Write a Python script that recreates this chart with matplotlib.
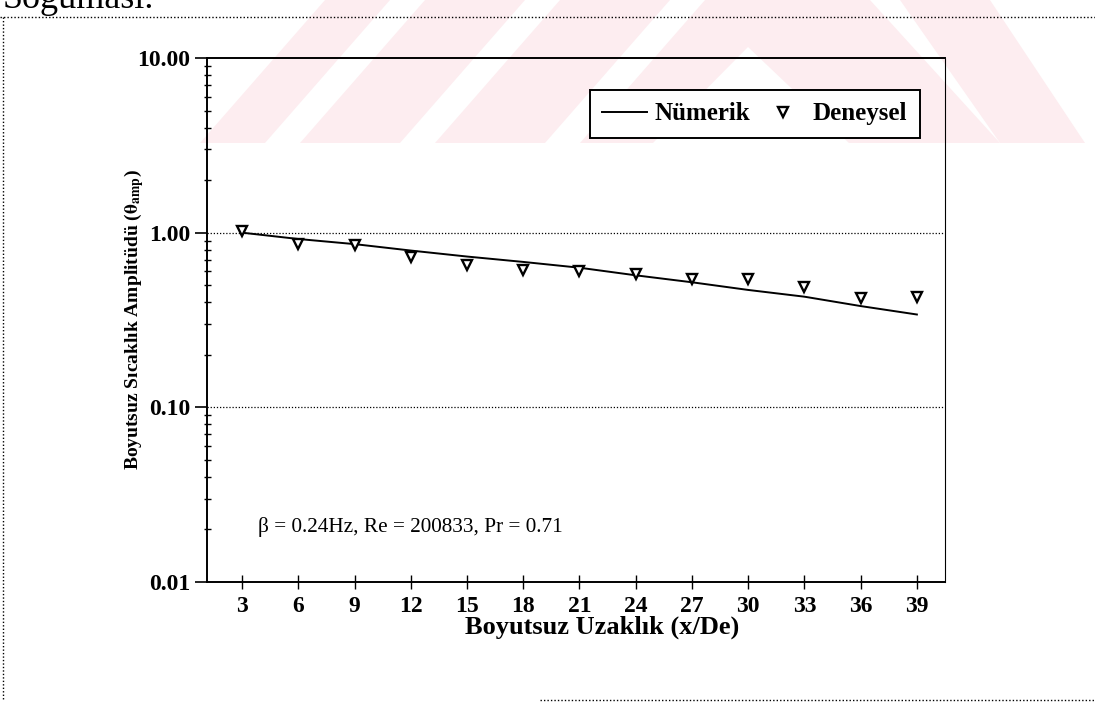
import matplotlib
matplotlib.use("Agg")
import matplotlib.pyplot as plt
from matplotlib.patches import Polygon
from matplotlib.lines import Line2D
from matplotlib.ticker import LogLocator, FixedLocator, NullFormatter
import numpy as np

# data
x_pos = [3, 6, 9, 12, 15, 18, 21, 24, 27, 30, 33, 36, 39]
numerik = [1.00, 0.92, 0.86, 0.79, 0.73, 0.68, 0.63, 0.57, 0.52, 0.47, 0.43, 0.38, 0.34]
deneysel = [1.02, 0.865, 0.85, 0.73, 0.65, 0.61, 0.60, 0.58, 0.545, 0.54, 0.49, 0.42, 0.43]
y_ticks = [0.01, 0.1, 1.0, 10.0]

plt.rcParams['font.family'] = ['Liberation Serif', 'DejaVu Serif']
plt.rcParams['mathtext.fontset'] = 'stix'

W, H = 1095, 713
PT = 72 / 100  # points per pixel at dpi 100
fig = plt.figure(figsize=(W / 100, H / 100), dpi=100)

def px(x, y):
    # pixel coords (top-left origin) -> figure fraction
    return (x / W, 1 - y / H)

def add_poly(points, color):
    fig.patches.append(Polygon([px(a, b) for a, b in points], closed=True,
                               transform=fig.transFigure, color=color, zorder=-5, lw=0))

# pale pink watermark in the top band of the scanned page
pink = '#fdedf0'
wb = 143   # watermark cut line
sl = 125   # horizontal run of a stripe over the band height
for x0, w in [(200, 65), (300, 100), (435, 110)]:
    add_poly([(x0, wb), (x0 + w, wb), (x0 + w + sl, 0), (x0 + sl, 0)], pink)
# big "A" on the right with a white inner triangle
add_poly([(580, wb), (705, 0), (870, 0), (1000, wb)], pink)
add_poly([(748, 47), (652, wb + 1), (850, wb + 1)], 'white')
add_poly([(900, 0), (990, 0), (1085, wb), (1000, wb)], pink)

# dotted page frame from the scan
dot = dict(color='black', linestyle=(0, (1, 1.5)), linewidth=1.0, transform=fig.transFigure)
fig.lines.append(Line2D([0, 1], [1 - 17 / H] * 2, **dot))
fig.lines.append(Line2D([3 / W] * 2, [1 - 17 / H, 1 - 700 / H], **dot))
fig.lines.append(Line2D([540 / W, 1], [1 - 700 / H] * 2, **dot))

# heading of the page, cut off by the scan
fig.text(0.002, 1 - 8 / H, 'Soğuması.', fontsize=26, va='baseline', ha='left')

ax = fig.add_axes([207 / W, 1 - 582 / H, 738 / W, 524 / H])
ax.set_yscale('log')
ax.set_xlim(1.13, 40.5)
ax.set_ylim(0.01, 10)

ax.plot(x_pos, numerik, color='black', linewidth=1.4, label='Nümerik', zorder=3)
ax.plot(x_pos, deneysel, linestyle='none', marker='v', markersize=6.5, markerfacecolor='white',
        markeredgecolor='black', markeredgewidth=1.7, label='Deneysel', zorder=4)

# dotted horizontal grid at the decades
for yv in [0.1, 1.0]:
    ax.axhline(yv, color='black', linestyle=(0, (1, 1.5)), linewidth=0.9, zorder=1)

ax.yaxis.set_major_locator(FixedLocator(y_ticks))
ax.yaxis.set_minor_locator(LogLocator(base=10, subs=np.arange(2, 10)))
ax.yaxis.set_minor_formatter(NullFormatter())
ax.set_yticklabels(['%.2f' % v for v in y_ticks], fontsize=17, fontweight='bold')
ax.tick_params(axis='y', which='major', direction='out', length=12 * PT, width=1.2, pad=5 * PT)
ax.tick_params(axis='y', which='minor', direction='inout', length=7 * PT, width=1.0)

ax.set_xticks(x_pos)
ax.set_xticklabels([str(v) for v in x_pos], fontsize=17, fontweight='bold')
ax.tick_params(axis='x', which='major', direction='inout', length=14 * PT, width=1.0, pad=7 * PT)
ax.tick_params(axis='x', which='minor', bottom=False)

for s in ['left', 'bottom', 'top']:
    ax.spines[s].set_linewidth(1.4)
ax.spines['right'].set_linewidth(0.8)
ax.spines['right'].set_linestyle((0, (3, 1)))

ax.set_xlabel('Boyutsuz Uzaklık (x/De)', fontsize=19, fontweight='bold')
ax.xaxis.set_label_coords(0.535, -0.064)
ax.set_ylabel('Boyutsuz Sıcaklık Amplitüdü ($\\mathbf{\\theta}_{\\mathbf{amp}}$)', fontsize=14,
              fontweight='bold')
ax.yaxis.set_label_coords(-0.083, 0.5)

ax.text(0.069, 0.105, 'β = 0.24Hz, Re = 200833, Pr = 0.71', transform=ax.transAxes,
        fontsize=15.3, va='center', ha='left')

leg = ax.legend(loc='upper right', bbox_to_anchor=(0.966, 0.939), ncol=2, fancybox=False,
                framealpha=1, edgecolor='black', prop={'size': 18, 'weight': 'bold'},
                handlelength=1.8, columnspacing=0.4, borderpad=0.5, handletextpad=0.3,
                borderaxespad=0)
leg.get_frame().set_linewidth(1.4)
leg.get_frame().set_facecolor('white')

ax.patch.set_alpha(0)
fig.savefig('out.png', dpi=100)
